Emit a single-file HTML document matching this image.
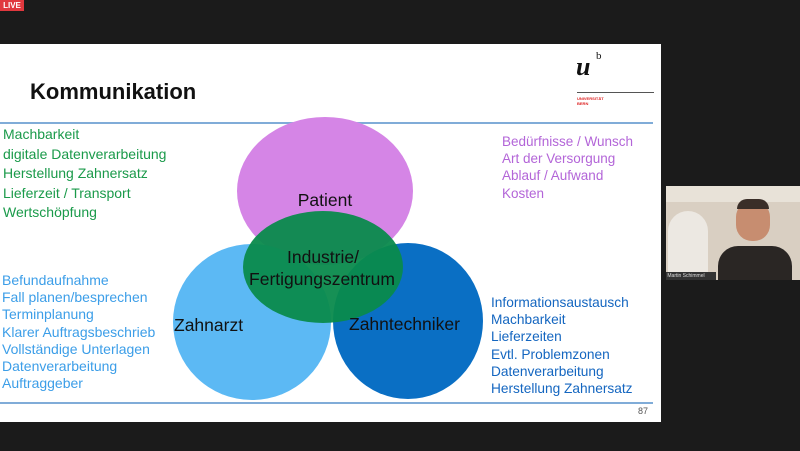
<!DOCTYPE html>
<html><head><style>
body{margin:0;width:800px;height:451px;background:#1b1b1b;position:relative;overflow:hidden;font-family:"Liberation Sans",sans-serif}
.a{position:absolute}
.slide{left:0;top:44px;width:661px;height:378px;background:#fff}
.t{position:absolute;white-space:nowrap;font-size:14px}
</style></head><body>
<div class="a" style="left:0;top:0;width:24px;height:11px;background:#e0383e;color:#fff;font-size:8px;font-weight:bold;line-height:11px;text-align:center">LIVE</div>
<div class="a slide"></div>
<div class="a" style="left:0;top:122px;width:653px;height:2px;background:#80acd8"></div>
<div class="a" style="left:0;top:402px;width:653px;height:2px;background:#80acd8"></div>
<div class="t" style="left:30px;top:79px;font-size:22px;font-weight:bold;color:#111">Kommunikation</div>
<div class="t" style="left:576px;top:52px;font-size:26px;font-weight:bold;font-style:italic;font-family:'Liberation Serif',serif;color:#111">u</div>
<div class="t" style="left:596px;top:50px;font-size:11px;font-family:'Liberation Serif',serif;color:#111">b</div>
<div class="a" style="left:577px;top:92px;width:77px;height:1px;background:#555"></div>
<div class="t" style="left:577px;top:96px;font-size:4px;color:#d22;line-height:5px;font-weight:bold">UNIVERSITÄT<br>BERN</div>
<svg class="a" style="left:0;top:0" width="800" height="451">
<ellipse cx="325" cy="191" rx="88" ry="74" fill="#d585e6"/>
<ellipse cx="252" cy="322" rx="79" ry="78" fill="#5cb9f4"/>
<ellipse cx="408" cy="321" rx="75" ry="78" fill="#0a6fc4"/>
<ellipse cx="323" cy="267" rx="80" ry="56" fill="#0a8a4c" opacity="0.95"/>
<g font-family="Liberation Sans" font-size="17.5" fill="#111">
<text x="325" y="206" text-anchor="middle">Patient</text>
<text x="323" y="263" text-anchor="middle">Industrie/</text>
<text x="322" y="285" text-anchor="middle">Fertigungszentrum</text>
<text x="174" y="331">Zahnarzt</text>
<text x="349" y="330">Zahntechniker</text>
</g>
</svg>
<div class="t" style="left:3px;top:125px;line-height:19.6px;color:#1a9a4a">Machbarkeit<br>digitale Datenverarbeitung<br>Herstellung Zahnersatz<br>Lieferzeit / Transport<br>Wertschöpfung</div>
<div class="t" style="left:502px;top:133px;line-height:17.2px;font-size:13.5px;color:#b365d8">Bedürfnisse / Wunsch<br>Art der Versorgung<br>Ablauf / Aufwand<br>Kosten</div>
<div class="t" style="left:2px;top:272px;line-height:17.2px;color:#3c9ee8">Befundaufnahme<br>Fall planen/besprechen<br>Terminplanung<br>Klarer Auftragsbeschrieb<br>Vollständige Unterlagen<br>Datenverarbeitung<br>Auftraggeber</div>
<div class="t" style="left:491px;top:294px;line-height:17.2px;font-size:13.7px;color:#1466c0">Informationsaustausch<br>Machbarkeit<br>Lieferzeiten<br>Evtl. Problemzonen<br>Datenverarbeitung<br>Herstellung Zahnersatz</div>
<div class="t" style="left:638px;top:406px;font-size:9px;color:#555">87</div>
<div class="a" style="left:666px;top:186px;width:134px;height:94px;background:#d9cfc2">
<div class="a" style="left:0;top:0;width:134px;height:16px;background:#e8e2d8"></div>
<div class="a" style="left:2px;top:25px;width:40px;height:66px;background:#ece8e2;border-radius:20px 20px 0 0"></div>
<div class="a" style="left:70px;top:15px;width:34px;height:40px;background:#c78d70;border-radius:16px"></div>
<div class="a" style="left:71px;top:13px;width:32px;height:10px;background:#3a2e28;border-radius:10px 10px 0 0"></div>
<div class="a" style="left:52px;top:60px;width:74px;height:34px;background:#2a2624;border-radius:20px 20px 0 0"></div>
<div class="a" style="left:0;top:86px;width:50px;height:8px;background:#333;color:#ddd;font-size:5px;line-height:8px">&nbsp;Martin Schimmel</div>
</div>
</body></html>
